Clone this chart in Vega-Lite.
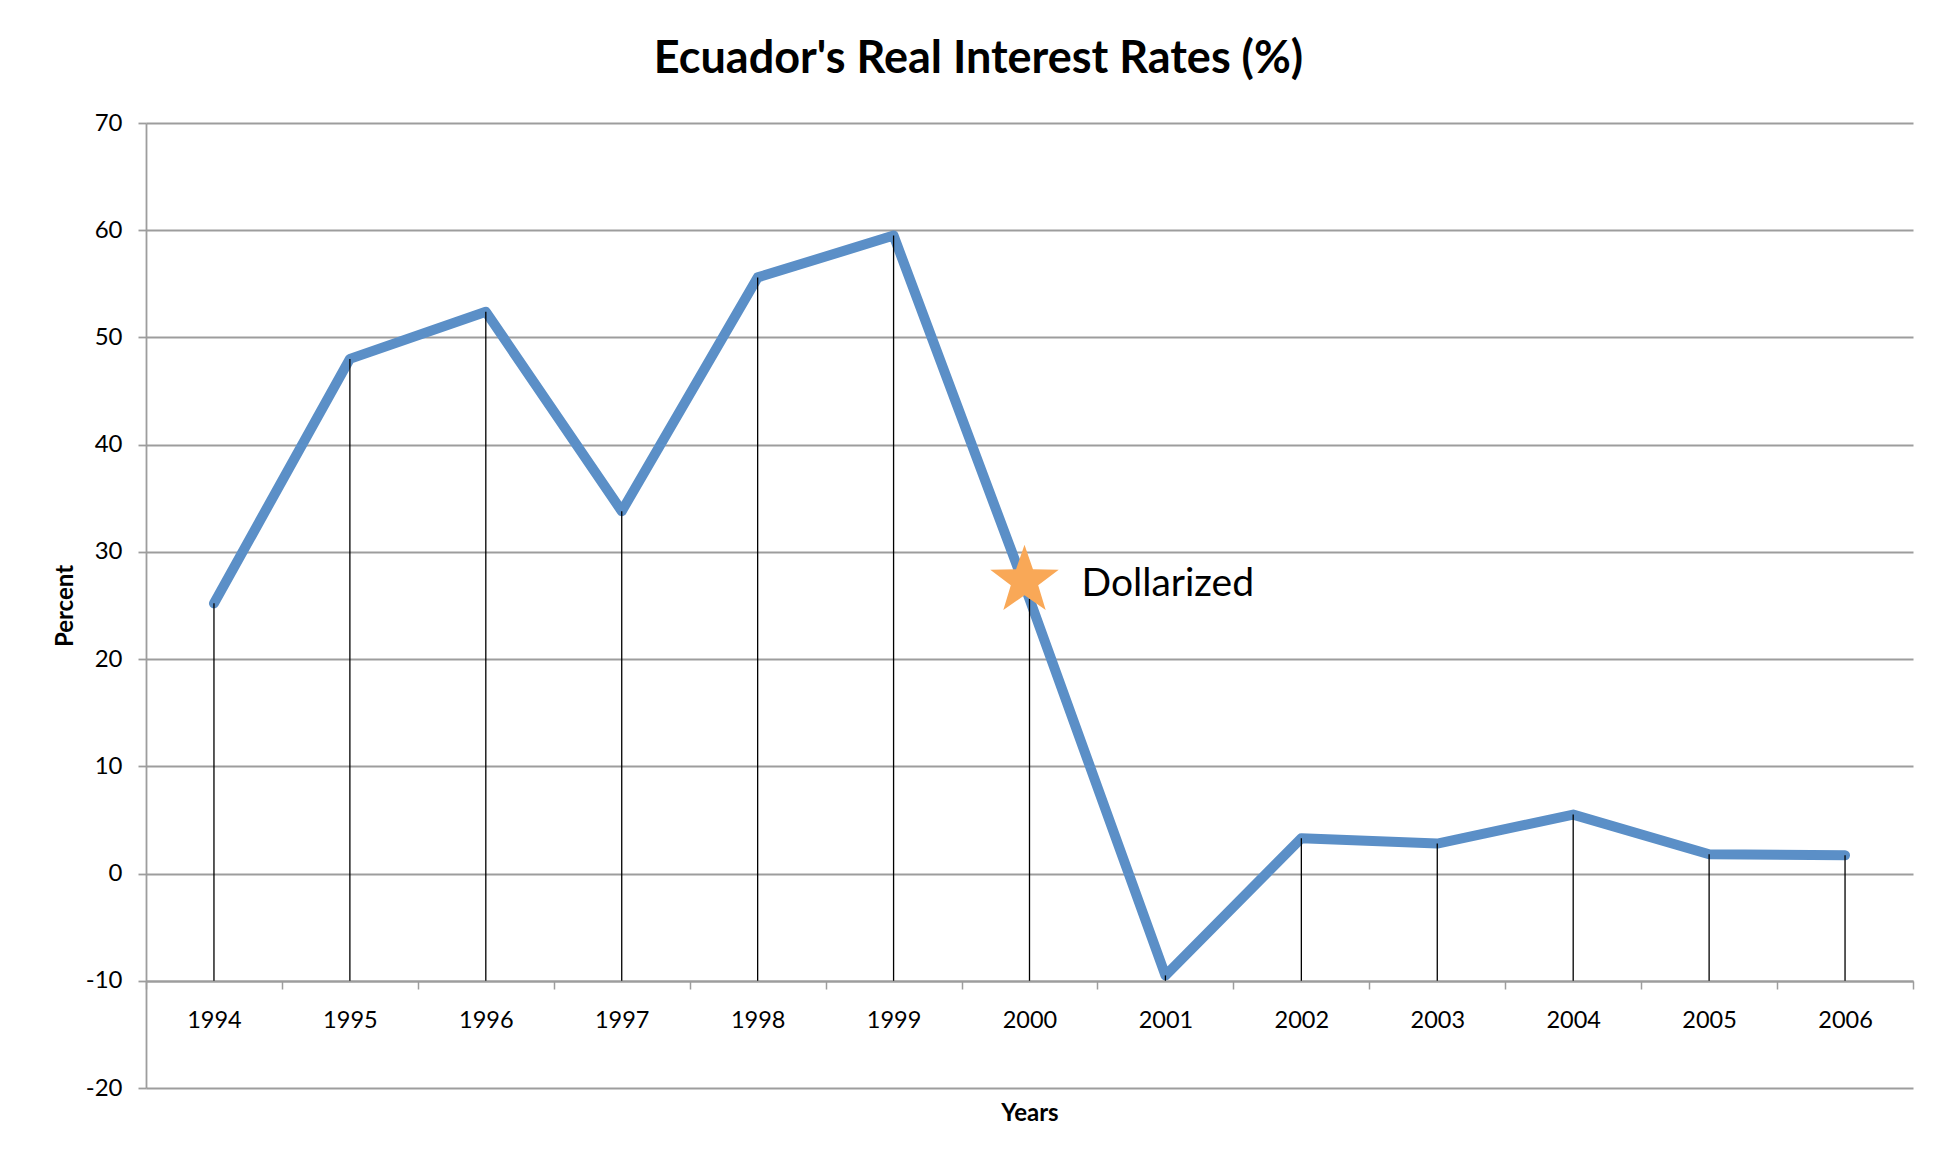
{
  "$schema": "https://vega.github.io/schema/vega-lite/v6.json",
  "width": 1767,
  "height": 965,
  "autosize": {"type": "none"},
  "padding": {"left": 146, "top": 123, "right": 43, "bottom": 72},
  "background": "white",
  "title": {
    "text": "Ecuador's Real Interest Rates (%)",
    "font": "Lato",
    "fontSize": 45,
    "fontWeight": "bold",
    "color": "#000000",
    "anchor": "middle",
    "dx": -51,
    "baseline": "alphabetic",
    "offset": -7
  },
  "config": {"view": {"stroke": null}, "font": "Lato"},
  "datasets": {
    "rates": [
      {"year": "1994", "value": 25.2},
      {"year": "1995", "value": 48.0},
      {"year": "1996", "value": 52.4},
      {"year": "1997", "value": 33.8},
      {"year": "1998", "value": 55.6},
      {"year": "1999", "value": 59.5},
      {"year": "2000", "value": 25.6},
      {"year": "2001", "value": -9.5},
      {"year": "2002", "value": 3.3},
      {"year": "2003", "value": 2.8},
      {"year": "2004", "value": 5.5},
      {"year": "2005", "value": 1.8},
      {"year": "2006", "value": 1.7}
    ],
    "notes": [
      {"year": "2000", "value": 27.3, "label": "Dollarized"}
    ]
  },
  "encoding": {
    "x": {
      "field": "year",
      "type": "ordinal",
      "scale": {"type": "band", "paddingInner": 0, "paddingOuter": 0},
      "axis": {
        "title": "Years",
        "offset": -107,
        "grid": false,
        "domainColor": "#9d9d9d",
        "domainWidth": 1.8,
        "tickColor": "#9d9d9d",
        "tickWidth": 1.5,
        "tickSize": 8,
        "tickBand": "extent",
        "labelFont": "Lato",
        "labelFontSize": 23.5,
        "labelColor": "#000000",
        "labelPadding": 19,
        "labelAngle": 0,
        "titleFont": "Lato",
        "titleFontSize": 24,
        "titleFontWeight": "bold",
        "titleColor": "#000000",
        "titlePadding": 70
      }
    },
    "y": {
      "field": "value",
      "type": "quantitative",
      "scale": {"domain": [-20, 70], "nice": false, "zero": false},
      "axis": {
        "title": "Percent",
        "values": [-20, -10, 0, 10, 20, 30, 40, 50, 60, 70],
        "labelExpr": "datum.value + ''",
        "grid": true,
        "gridColor": "#9d9d9d",
        "gridWidth": 1.8,
        "domainColor": "#9d9d9d",
        "domainWidth": 1.8,
        "tickColor": "#9d9d9d",
        "tickWidth": 1.8,
        "tickSize": 8,
        "labelFont": "Lato",
        "labelFontSize": 24,
        "labelColor": "#000000",
        "labelPadding": 16,
        "titleFont": "Lato",
        "titleFontSize": 24,
        "titleFontWeight": "bold",
        "titleColor": "#000000",
        "titlePadding": 8
      }
    }
  },
  "layer": [
    {
      "data": {"name": "rates"},
      "mark": {"type": "line", "color": "#5b8fc7", "strokeWidth": 10, "strokeCap": "round", "strokeJoin": "round"}
    },
    {
      "data": {"name": "rates"},
      "mark": {"type": "rule", "color": "#000000", "strokeWidth": 1.3},
      "encoding": {"y2": {"datum": -10}}
    },
    {
      "data": {"name": "notes"},
      "mark": {
        "type": "point",
        "shape": "M0,-1 L0.235,-0.324 L0.951,-0.309 L0.380,0.124 L0.588,0.809 L0,0.4 L-0.588,0.809 L-0.380,0.124 L-0.951,-0.309 L-0.235,-0.324 Z",
        "size": 5184,
        "filled": true,
        "fill": "#f9a857",
        "strokeWidth": 0,
        "opacity": 1,
        "xOffset": -5
      }
    },
    {
      "data": {"name": "notes"},
      "mark": {
        "type": "text",
        "align": "left",
        "baseline": "alphabetic",
        "dx": 52,
        "dy": 15,
        "font": "Lato",
        "fontSize": 39,
        "color": "#000000"
      },
      "encoding": {"text": {"field": "label"}}
    }
  ]
}
